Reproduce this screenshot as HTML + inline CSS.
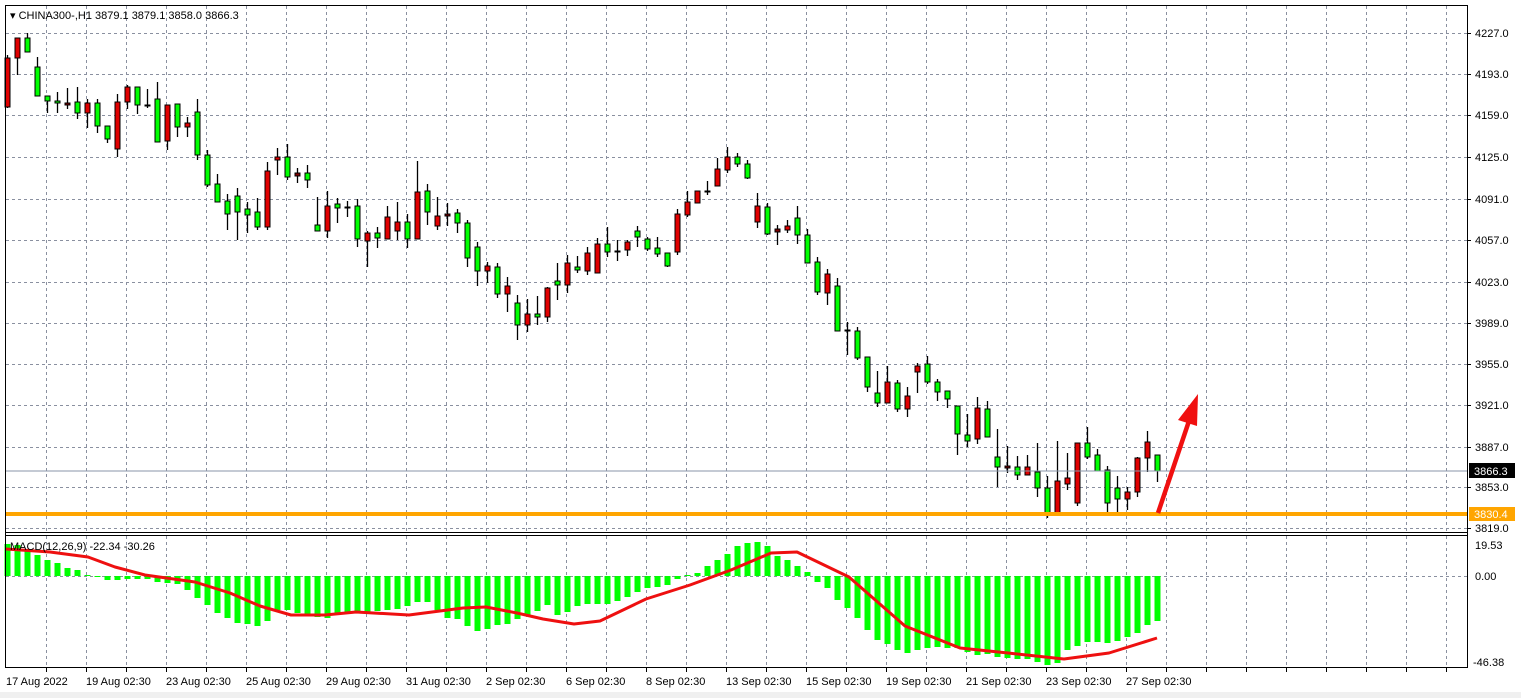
<!DOCTYPE html>
<html><head><meta charset="utf-8"><style>
html,body{margin:0;padding:0;background:#fff;}
svg{display:block;font-family:"Liberation Sans",sans-serif;}
</style></head><body>
<svg id="s" width="1521" height="698" xmlns="http://www.w3.org/2000/svg">
<rect x="0" y="0" width="1521" height="698" fill="#fff"/>
<rect x="0" y="692" width="1521" height="6" fill="#f0f0f0"/>
<g id="grid"></g>
<g id="macd"></g>
<g id="cand"></g>
<line x1="5" y1="471" x2="1467" y2="471" stroke="#8a96a8" stroke-width="1"/>
<line x1="5" y1="514" x2="1467" y2="514" stroke="#FFA500" stroke-width="4"/>
<line x1="1158" y1="513" x2="1190" y2="418" stroke="#f01010" stroke-width="4.5"/>
<polygon points="1198,394 1178,420 1197,426" fill="#f01010"/>
<!-- frame -->
<rect x="5.5" y="5.5" width="1462" height="662" fill="none" stroke="#000" stroke-width="1"/>
<line x1="5" y1="532.5" x2="1467" y2="532.5" stroke="#000"/>
<line x1="5" y1="535.5" x2="1467" y2="535.5" stroke="#000"/>
<g id="ax" font-size="11" fill="#000"></g>
<text x="10" y="19" font-size="11">▾ CHINA300-,H1  3879.1 3879.1 3858.0 3866.3</text>
<text x="10" y="550" font-size="11">MACD(12,26,9) -22.34 -30.26</text>
</svg>
<script>
var NS="http://www.w3.org/2000/svg";
function el(p,t,a,txt){var e=document.createElementNS(NS,t);for(var k in a)e.setAttribute(k,a[k]);if(txt!=null)e.textContent=txt;document.getElementById(p).appendChild(e);return e;}
// grid
for(var x=46;x<=1446;x+=40){
 el("grid","line",{x1:x+.5,y1:6,x2:x+.5,y2:532,stroke:"#8a90a0","stroke-dasharray":"3,3"});
 el("grid","line",{x1:x+.5,y1:536,x2:x+.5,y2:667,stroke:"#8a90a0","stroke-dasharray":"3,3"});
 el("ax","line",{x1:x+.5,y1:668,x2:x+.5,y2:672,stroke:"#000"});
}
var pl=[["4227.0",33],["4193.0",74],["4159.0",115],["4125.0",157],["4091.0",199],["4057.0",240],["4023.0",282],["3989.0",323],["3955.0",364],["3921.0",405],["3887.0",447],["3853.0",487],["3819.0",528]];
pl.forEach(function(p){
 el("grid","line",{x1:6,y1:p[1]+.5,x2:1467,y2:p[1]+.5,stroke:"#8a90a0","stroke-dasharray":"3,3"});
 el("ax","line",{x1:1467,y1:p[1]+.5,x2:1471,y2:p[1]+.5,stroke:"#000"});
 el("ax","text",{x:1475,y:p[1]+4},p[0]);
});
el("grid","line",{x1:6,y1:576.5,x2:1467,y2:576.5,stroke:"#8a90a0","stroke-dasharray":"3,3"});
el("ax","text",{x:1475,y:549},"19.53");
el("ax","text",{x:1475,y:580},"0.00");
el("ax","text",{x:1473,y:666},"-46.38");
el("ax","rect",{x:1469,y:463,width:46,height:15,fill:"#000"});
el("ax","text",{x:1474,y:475,fill:"#fff"},"3866.3");
el("ax","rect",{x:1469,y:507,width:46,height:14,fill:"#FFA500"});
el("ax","text",{x:1474,y:518,fill:"#fff"},"3830.4");
var xl=["19 Aug 02:30","23 Aug 02:30","25 Aug 02:30","29 Aug 02:30","31 Aug 02:30","2 Sep 02:30","6 Sep 02:30","8 Sep 02:30","13 Sep 02:30","15 Sep 02:30","19 Sep 02:30","21 Sep 02:30","23 Sep 02:30","27 Sep 02:30"];
el("ax","text",{x:6,y:685},"17 Aug 2022");
xl.forEach(function(t,i){el("ax","text",{x:86+80*i,y:685},t);});
// candles [top,bot,high,low,color]
var C=[[58,107,55,108,'r'],[38,58,38,75,'r'],[38,52,33,52,'g'],[67,96,57,96,'g'],[96,101,96,113,'g'],[101,103,92,113,'g'],[103,105,88,109,'d'],[102,113,87,119,'g'],[103,113,99,128,'r'],[103,126,99,133,'g'],
[126,139,126,143,'g'],[102,149,94,157,'r'],[87,102,85,109,'r'],[87,105,87,114,'g'],[105,106,89,108,'d'],[99,142,82,142,'g'],[105,141,105,150,'r'],[104,127,104,137,'g'],[123,127,117,137,'r'],[112,155,99,160,'g'],
[155,185,150,187,'g'],[184,202,174,202,'g'],[201,214,194,230,'g'],[196,212,188,240,'g'],[209,215,202,233,'g'],[212,227,198,230,'g'],[171,227,162,230,'r'],[157,160,148,175,'r'],[157,177,144,180,'g'],[173,176,168,183,'d'],
[173,180,165,188,'g'],[225,231,197,231,'g'],[206,231,191,238,'r'],[204,208,198,223,'g'],[207,208,201,217,'d'],[206,239,199,247,'g'],[233,241,231,267,'r'],[233,238,227,248,'g'],[217,239,206,239,'r'],[222,231,202,240,'r'],
[222,239,214,248,'g'],[192,239,161,239,'r'],[191,212,184,225,'g'],[216,226,197,230,'r'],[214,216,203,226,'d'],[213,223,209,233,'g'],[223,258,220,267,'g'],[247,271,242,286,'g'],[266,271,262,283,'r'],[267,294,263,298,'g'],
[286,294,277,312,'r'],[303,325,295,340,'g'],[314,325,299,332,'r'],[314,317,296,325,'g'],[288,317,287,322,'r'],[281,285,263,300,'g'],[263,285,255,293,'r'],[267,270,256,273,'g'],[253,271,247,275,'r'],[244,273,238,273,'r'],
[244,252,227,257,'g'],[251,252,240,261,'d'],[242,250,240,256,'r'],[231,237,226,247,'g'],[239,249,237,251,'g'],[248,254,237,257,'g'],[253,266,253,267,'g'],[214,252,209,255,'r'],[202,215,191,217,'r'],[191,203,191,203,'r'],
[191,192,181,195,'d'],[169,186,158,186,'r'],[157,170,147,173,'r'],[157,164,153,167,'g'],[164,178,160,179,'g'],[206,222,193,228,'r'],[207,234,203,235,'g'],[229,232,225,245,'d'],[226,230,220,233,'r'],[218,235,206,244,'g'],
[235,263,229,263,'g'],[262,292,257,295,'g'],[274,293,269,305,'r'],[286,331,278,331,'g'],[330,331,322,355,'d'],[331,358,327,360,'g'],[357,387,357,392,'g'],[393,403,371,407,'g'],[382,403,366,403,'r'],[383,409,380,412,'g'],
[396,409,387,417,'r'],[366,372,363,393,'r'],[364,382,356,384,'g'],[382,392,379,401,'g'],[391,399,391,408,'g'],[406,434,406,455,'g'],[435,441,414,447,'g'],[408,439,397,444,'r'],[409,437,401,437,'g'],[457,467,429,487,'g'],
[466,468,446,473,'d'],[467,475,456,480,'g'],[467,475,455,475,'r'],[472,488,443,497,'g'],[488,515,476,518,'g'],[481,515,441,515,'r'],[478,484,453,490,'r'],[443,503,443,506,'r'],[443,457,427,459,'g'],[455,471,449,471,'g'],
[470,503,466,513,'g'],[488,499,476,513,'g'],[492,499,487,510,'r'],[458,492,457,497,'r'],[442,458,431,472,'r'],[455,471,455,482,'g']];
var col={g:"#00ff00",r:"#e00000",d:"#800000"};
C.forEach(function(c,i){var x=7+10*i;
 el("cand","line",{x1:x+.5,y1:c[2],x2:x+.5,y2:c[3],stroke:"#000","stroke-width":1.3});
 var h=Math.max(c[1]-c[0],1);
 el("cand","rect",{x:x-2,y:c[0],width:5,height:h,fill:col[c[4]],stroke:"#000","stroke-width":1});
});
// MACD histogram bottoms (y px), zero at 576
var H=[544,545,549,555,560,563,568,570,575,576,580,580,579,579,579,582,583,584,590,598,605,613,618,623,624,626,621,610,610,613,615,617,618,614,613,613,613,611,610,609,606,602,602,610,618,619,626,631,629,625,624,619,616,611,605,615,612,606,604,604,
604,601,597,592,588,587,585,579,575,573,566,560,554,546,543,542,546,556,560,566,572,582,588,600,608,618,630,640,644,650,653,650,648,647,648,648,652,655,654,657,658,659,659,662,665,663,650,646,642,642,643,641,637,633,625,621];
H.forEach(function(y,i){var x=7+10*i;var t=Math.min(y,576),b=Math.max(y,576);
 el("macd","rect",{x:x-2.5,y:t,width:6,height:Math.max(b-t,1),fill:"#00ff00"});});
var S=[[6,549],[50,552],[88,557],[115,567],[145,575],[195,582],[230,593],[260,606],[291,615],[325,615],[356,612],[409,615],[463,608],[486,607],[517,613],[543,619],[574,624],[600,621],[646,599],[690,585],[731,570],[771,553],[797,552],[849,577],[905,626],[960,648],[1008,653],[1064,659],[1109,653],[1157,638]];
el("macd","polyline",{points:S.map(function(p){return p.join(",")}).join(" "),fill:"none",stroke:"#ee1010","stroke-width":3,"stroke-linejoin":"round"});
</script>
</body></html>
